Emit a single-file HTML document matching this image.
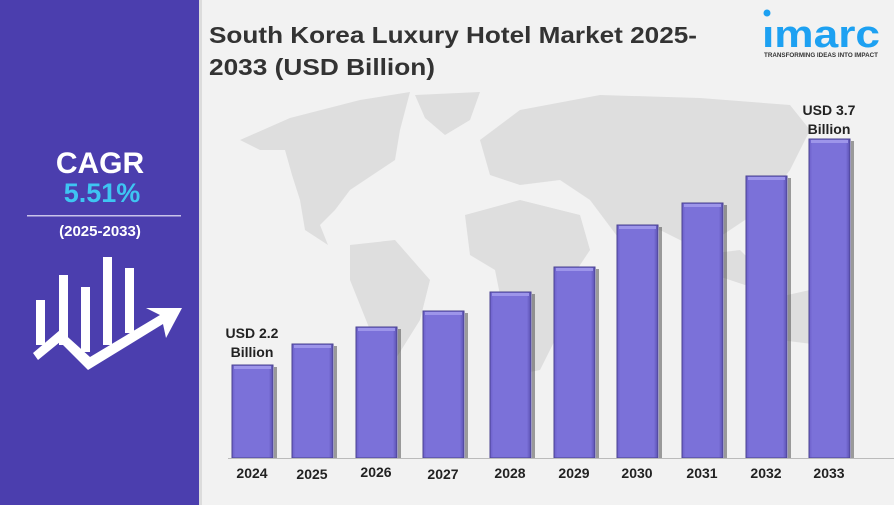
<!DOCTYPE html>
<html><head><meta charset="utf-8"><style>
body{margin:0;width:894px;height:505px;overflow:hidden;background:#f2f2f2;font-family:"Liberation Sans",sans-serif}
</style></head><body>
<svg width="894" height="505" viewBox="0 0 894 505" xmlns="http://www.w3.org/2000/svg" style="position:absolute;left:0;top:0">
<defs>
<linearGradient id="g" x1="0" x2="1"><stop offset="0" stop-color="#6a5ec8"/><stop offset="0.08" stop-color="#7b71d9"/><stop offset="0.9" stop-color="#7b71d9"/><stop offset="1" stop-color="#5a4fb0"/></linearGradient>
</defs>
<rect x="0" y="0" width="894" height="505" fill="#f2f2f2"/>
<rect x="0" y="0" width="199" height="505" fill="#4b3eae"/>
<rect x="199" y="0" width="3" height="505" fill="#dcdcdc"/>
<!-- map -->
<g fill="#dedede">
<path d="M240,140 L290,118 L360,100 L410,92 L400,130 L395,160 L380,170 L350,190 L335,210 L320,225 L328,245 L305,230 L300,200 L292,175 L285,150 L260,150 Z"/>
<path d="M415,95 L480,92 L470,120 L445,135 L425,118 Z"/>
<path d="M350,245 L395,240 L430,280 L420,320 L395,360 L385,410 L375,400 L370,330 L350,280 Z"/>
<path d="M480,140 L520,110 L600,95 L700,98 L790,105 L810,130 L790,170 L760,210 L730,230 L700,250 L660,230 L620,240 L590,200 L560,180 L520,185 L490,175 Z"/>
<path d="M465,215 L520,200 L580,215 L590,250 L570,280 L560,330 L540,370 L515,375 L505,320 L495,270 L470,255 Z"/>
<path d="M700,255 L740,250 L760,270 L745,285 L715,275 Z"/>
<path d="M765,300 L810,290 L835,320 L820,345 L780,340 L765,325 Z"/>
</g>
<!-- title -->
<text x="209" y="43" font-size="23" font-weight="bold" fill="#333" textLength="488" lengthAdjust="spacingAndGlyphs">South Korea Luxury Hotel Market 2025-</text>
<text x="209" y="75" font-size="23" font-weight="bold" fill="#333" textLength="226" lengthAdjust="spacingAndGlyphs">2033 (USD Billion)</text>
<!-- logo -->
<text x="762" y="47" font-size="38" font-weight="bold" fill="#1da1f2" textLength="118" lengthAdjust="spacingAndGlyphs">ımarc</text>
<circle cx="767" cy="13" r="3.5" fill="#1da1f2"/>
<text x="764" y="57" font-size="6.5" font-weight="bold" fill="#333" textLength="114" lengthAdjust="spacingAndGlyphs">TRANSFORMING IDEAS INTO IMPACT</text>
<!-- left panel -->
<text x="100" y="173" font-size="30" font-weight="bold" fill="#fff" text-anchor="middle">CAGR</text>
<text x="102" y="202" font-size="27" font-weight="bold" fill="#3ec5f2" text-anchor="middle">5.51%</text>
<rect x="27" y="215" width="154" height="1.5" fill="#c9c3ea"/>
<text x="100" y="236" font-size="15" font-weight="bold" fill="#fff" text-anchor="middle">(2025-2033)</text>
<g fill="#fff">
<rect x="36" y="300" width="9" height="45"/>
<rect x="59" y="275" width="9" height="70"/>
<rect x="81" y="287" width="9" height="65"/>
<rect x="103" y="257" width="9" height="88"/>
<rect x="125" y="268" width="9" height="65"/>
<path d="M33,353 L60,330 L90,357 L160,315 L146,308 L182,308 L166,338 L163,324 L88,370 L60,342 L38,360 Z"/>
</g>
<!-- bars -->
<g>
<g fill="#444" opacity="0.5">
<rect x="274" y="367" width="3" height="91"/><rect x="334" y="346" width="3" height="112"/><rect x="398" y="329" width="3" height="129"/><rect x="465" y="313" width="3" height="145"/><rect x="532" y="294" width="3" height="164"/><rect x="596" y="269" width="3" height="189"/><rect x="659" y="227" width="3" height="231"/><rect x="724" y="205" width="3" height="253"/><rect x="788" y="178" width="3" height="280"/><rect x="851" y="141" width="3" height="317"/>
</g>
<g fill="url(#g)" stroke="#4a4290" stroke-width="1">
<rect x="232" y="365" width="41" height="93"/>
<rect x="292" y="344" width="41" height="114"/>
<rect x="356" y="327" width="41" height="131"/>
<rect x="423" y="311" width="41" height="147"/>
<rect x="490" y="292" width="41" height="166"/>
<rect x="554" y="267" width="41" height="191"/>
<rect x="617" y="225" width="41" height="233"/>
<rect x="682" y="203" width="41" height="255"/>
<rect x="746" y="176" width="41" height="282"/>
<rect x="809" y="139" width="41" height="319"/>
</g>
<g fill="#9d95ea">
<rect x="234" y="366" width="37" height="3"/><rect x="294" y="345" width="37" height="3"/><rect x="358" y="328" width="37" height="3"/><rect x="425" y="312" width="37" height="3"/><rect x="492" y="293" width="37" height="3"/><rect x="556" y="268" width="37" height="3"/><rect x="619" y="226" width="37" height="3"/><rect x="684" y="204" width="37" height="3"/><rect x="748" y="177" width="37" height="3"/><rect x="811" y="140" width="37" height="3"/>
</g>
</g>
<rect x="228" y="458" width="666" height="1" fill="#bbb"/>
<g font-size="14" font-weight="bold" fill="#222" text-anchor="middle">
<text x="252" y="478">2024</text><text x="312" y="479">2025</text><text x="376" y="477">2026</text><text x="443" y="479">2027</text><text x="510" y="478">2028</text><text x="574" y="478">2029</text><text x="637" y="478">2030</text><text x="702" y="478">2031</text><text x="766" y="478">2032</text><text x="829" y="478">2033</text>
</g>
<g font-size="14" font-weight="bold" fill="#222" text-anchor="middle">
<text x="252" y="338">USD 2.2</text><text x="252" y="357">Billion</text>
<text x="829" y="115">USD 3.7</text><text x="829" y="134">Billion</text>
</g>
</svg>
</body></html>
